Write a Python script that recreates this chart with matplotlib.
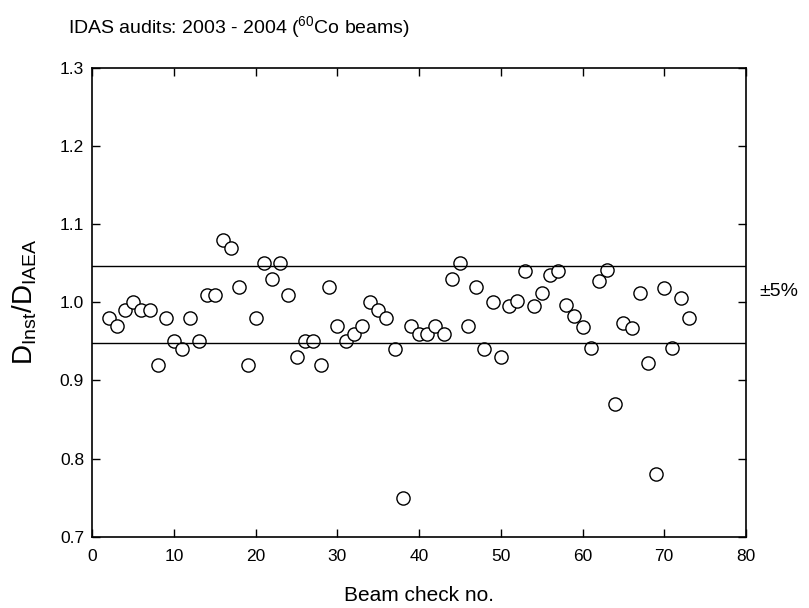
import matplotlib.pyplot as plt
import numpy as np

plt.rcParams['font.family'] = ['Liberation Sans', 'DejaVu Sans']
plt.rcParams['mathtext.default'] = 'regular'

# beam check number and measured dose ratio
beam_no = np.arange(2, 74)
ratio = [0.98, 0.97, 0.99, 1.00, 0.99, 0.99, 0.92, 0.98, 0.95, 0.94,
         0.98, 0.95, 1.01, 1.01, 1.08, 1.07, 1.02, 0.92, 0.98, 1.05,
         1.03, 1.05, 1.01, 0.93, 0.95, 0.95, 0.92, 1.02, 0.97, 0.95,
         0.96, 0.97, 1.00, 0.99, 0.98, 0.94, 0.75, 0.97, 0.96, 0.96,
         0.97, 0.96, 1.03, 1.05, 0.97, 1.02, 0.94, 1.00, 0.93, 0.995,
         1.002, 1.040, 0.995, 1.012, 1.035, 1.040, 0.997, 0.982, 0.968, 0.941,
         1.027, 1.042, 0.870, 0.973, 0.967, 1.012, 0.922, 0.780, 1.018, 0.942,
         1.006, 0.980]

upper_lim = 1.046
lower_lim = 0.948

fig = plt.figure(figsize=(8.09, 6.08), dpi=100)
ax = fig.add_axes([0.1142, 0.1173, 0.8078, 0.7709])

ax.plot(beam_no, ratio, 'o', mfc='white', mec='black', ms=9.5, mew=1.0)
ax.axhline(upper_lim, color='black', lw=1)
ax.axhline(lower_lim, color='black', lw=1)

ax.set_xlim(0, 80)
ax.set_ylim(0.7, 1.3)
ax.set_xticks(np.arange(0, 81, 10))
ax.set_yticks(np.arange(0.7, 1.31, 0.1))
ax.set_yticklabels(['%.1f' % v for v in np.arange(0.7, 1.31, 0.1)])
ax.tick_params(direction='in', top=True, right=True, labelsize=12.5, length=6, width=1)
ax.tick_params(axis='x', pad=9)
ax.tick_params(axis='y', pad=6)
for s in ax.spines.values():
    s.set_linewidth(1.2)

ax.set_xlabel('Beam check no.', fontsize=15, labelpad=16)
fig.text(25 / 809, 1 - 302 / 608, '$D_{Inst}/D_{IAEA}$', fontsize=20,
         rotation=90, ha='center', va='center')

fig.text(0.084, 0.946, r'IDAS audits: 2003 - 2004 ($^{60}$Co beams)', fontsize=14)
fig.text(0.939, 0.521, '±5%', fontsize=14, va='center')

plt.savefig('out.png', dpi=100)
